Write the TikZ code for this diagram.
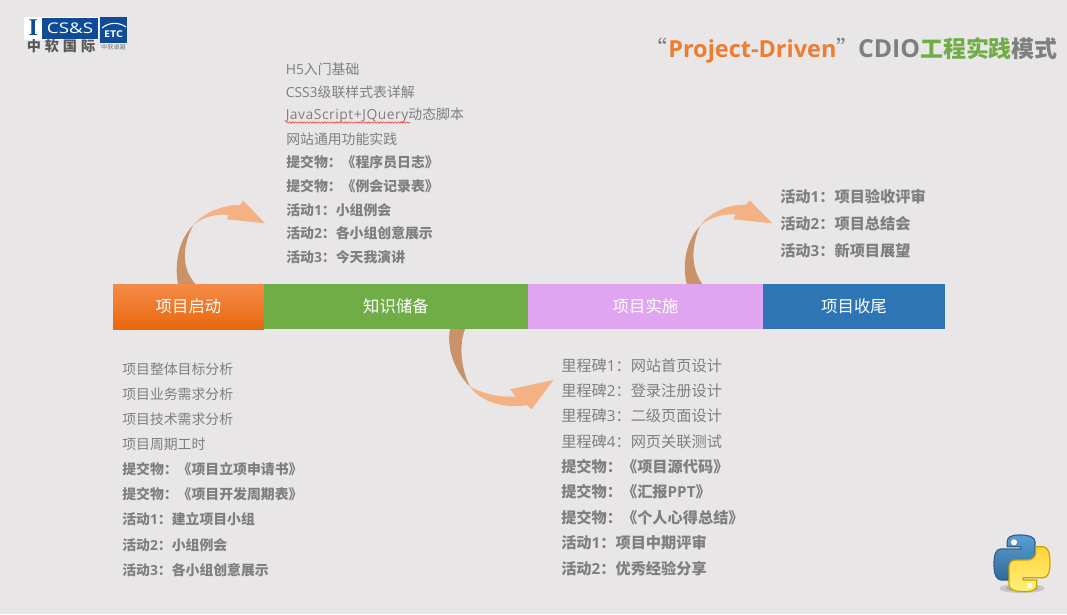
\documentclass[tikz,border=0pt]{standalone}
\usepackage{fontspec}
\setmainfont{Noto Sans CJK SC}
\newfontfamily\lat{Open Sans}
\newfontfamily\serifI{Liberation Serif}
\usetikzlibrary{decorations.pathmorphing}
\definecolor{bg}{HTML}{E8E6E7}
\definecolor{txt}{HTML}{7F7F7F}
\definecolor{arrL}{HTML}{F4B183}
\definecolor{arrD}{HTML}{C99268}
\definecolor{ttlO}{HTML}{ED7D31}
\definecolor{ttlG}{HTML}{70AD47}
\definecolor{logoB}{HTML}{0F4C97}
\definecolor{orT}{HTML}{F58B47}
\definecolor{orB}{HTML}{E8680F}
\definecolor{purp}{HTML}{E0A5F0}
\definecolor{blu}{HTML}{2E75B6}
\definecolor{pyBd}{HTML}{2F628E}
\definecolor{pyT}{HTML}{5A9FD4}
\definecolor{pyB}{HTML}{306998}
\definecolor{pyYd}{HTML}{C9A400}
\definecolor{pyYa}{HTML}{FFF07A}
\definecolor{pyYb}{HTML}{FFD43B}
\tikzset{
  item/.style={anchor=west,inner sep=0pt,text=txt,font=\fontsize{10.4pt}{12pt}\selectfont},
  bolditem/.style={item,font=\fontsize{10.4pt}{12pt}\selectfont\bfseries},
  bigitem/.style={item,font=\fontsize{11.4pt}{13pt}\selectfont},
  bigbold/.style={item,font=\fontsize{11.4pt}{13pt}\selectfont\bfseries},
  phase/.style={draw=none,inner sep=0pt,text=white,minimum height=33.75pt,font=\fontsize{12.3pt}{14pt}\selectfont},
  zoomA/.style={x=.25pt,y=-.25pt}
}
\newcommand{\ltn}[1]{{\lat #1}}
\begin{document}
\begin{tikzpicture}[x=.75pt,y=-.75pt]
\useasboundingbox (0,0) rectangle (1067,614);
\fill[bg] (0,0) rectangle (1067,614);
% arrows
\begin{scope}[shift={(150,190)},zoomA]
\fill[arrD] (84,282) .. controls (76,240) and (76,160) .. (130,105) .. controls (95,170) and (95,235) .. (136,282) -- cycle;
\fill[arrL] (130,105) .. controls (165,65) and (220,45) .. (270,45) -- (280,32) -- (345,100) -- (230,88) -- (236,75) .. controls (190,70) and (155,85) .. (130,105) -- cycle;
\end{scope}
\begin{scope}[shift={(430,310)},zoomA]
\fill[arrD] (60,57) .. controls (50,110) and (70,180) .. (120,230) .. controls (95,180) and (85,110) .. (105,57) -- cycle;
\fill[arrL] (120,230) .. controls (160,285) and (240,295) .. (290,285) -- (305,298) -- (370,210) -- (240,238) -- (258,260) .. controls (210,262) and (160,252) .. (120,230) -- cycle;
\end{scope}
\begin{scope}[shift={(670,190)},zoomA]
\fill[arrD] (50,282) .. controls (35,220) and (50,150) .. (90,108) .. controls (65,165) and (60,230) .. (97,282) -- cycle;
\fill[arrL] (90,108) .. controls (120,65) and (180,42) .. (225,45) -- (240,32) -- (307,100) -- (190,88) -- (197,73) .. controls (155,70) and (115,85) .. (90,108) -- cycle;
\end{scope}
% bars
\node[phase,minimum width=113.25pt,top color=orT,bottom color=orB] (p1) at (188.5,306.5) {项目启动};
\node[phase,minimum width=198pt,fill=ttlG] (p2) at (396,306.5) {知识储备};
\node[phase,minimum width=176.25pt,fill=purp] (p3) at (645.5,306.5) {项目实施};
\node[phase,minimum width=136.5pt,fill=blu] (p4) at (854,306.5) {项目收尾};
% list 1
\node[item] (a1) at (122,369) {项目整体目标分析};
\node[item] (a2) at (122,394) {项目业务需求分析};
\node[item] (a3) at (122,419) {项目技术需求分析};
\node[item] (a4) at (122,444) {项目周期工时};
\node[bolditem] (a5) at (122,469.5) {提交物：《项目立项申请书》};
\node[bolditem] (a6) at (122,494.5) {提交物：《项目开发周期表》};
\node[bolditem] (a7) at (122,519.5) {活动\ltn{1}：建立项目小组};
\node[bolditem] (a8) at (122,545) {活动\ltn{2}：小组例会};
\node[bolditem] (a9) at (122,570) {活动\ltn{3}：各小组创意展示};
% list 2
\node[item] (b1) at (285.5,69) {\ltn{H5}入门基础};
\node[item] (b2) at (285.5,92) {\ltn{CSS3}级联样式表详解};
\node[item] (b3) at (285.5,115) {{\lat\addfontfeature{LetterSpace=3.8}JavaScript+JQuery}动态脚本};
\node[item] (b4) at (286,139) {网站通用功能实践};
\node[bolditem] (b5) at (286,162.5) {提交物：《程序员日志》};
\node[bolditem] (b6) at (286,186.5) {提交物：《例会记录表》};
\node[bolditem] (b7) at (286,210) {活动\ltn{1}：小组例会};
\node[bolditem] (b8) at (286,233) {活动\ltn{2}：各小组创意展示};
\node[bolditem] (b9) at (286,257) {活动\ltn{3}：今天我演讲};
\draw[red!75!white,line width=.45pt,decorate,decoration={zigzag,amplitude=.55pt,segment length=2.2pt}] (286,122.5) -- (410,122.5);
% list 3
\node[bigitem] (c1) at (561,365.5) {里程碑\ltn{1}：网站首页设计};
\node[bigitem] (c2) at (561,390.5) {里程碑\ltn{2}：登录注册设计};
\node[bigitem] (c3) at (561,415.5) {里程碑\ltn{3}：二级页面设计};
\node[bigitem] (c4) at (561,441.5) {里程碑\ltn{4}：网页关联测试};
\node[bigbold] (c5) at (561,466.5) {提交物：《项目源代码》};
\node[bigbold] (c6) at (561,491.5) {提交物：《汇报\ltn{PPT}》};
\node[bigbold] (c7) at (561,517.5) {提交物：《个人心得总结》};
\node[bigbold] (c8) at (561,543) {活动\ltn{1}：项目中期评审};
\node[bigbold] (c9) at (561,568.5) {活动\ltn{2}：优秀经验分享};
% list 4
\node[bigbold] (d1) at (780,197) {活动\ltn{1}：项目验收评审};
\node[bigbold] (d2) at (780,223.5) {活动\ltn{2}：项目总结会};
\node[bigbold] (d3) at (780,250.5) {活动\ltn{3}：新项目展望};
% title
\node[anchor=east,inner sep=0pt,text=txt,font=\fontsize{17.2pt}{20pt}\selectfont\bfseries] (title) at (1058,50)
 {\textmd{“}\hspace{1pt}\textcolor{ttlO}{{\lat\fontsize{17.6pt}{20pt}\selectfont Project-Driven}}\textmd{”}\hspace{-1pt}{\lat\fontsize{18.6pt}{20pt}\selectfont CDIO}\textcolor{ttlG}{工程实践}模式};
% logo
\fill[logoB] (24,17) rectangle (98.5,39.5);
\draw[white,line width=.6pt] (24.5,17.5) rectangle (98,39);
\fill[white] (25,18) rectangle (41.5,38.5);
\node[inner sep=0pt,text=logoB,font=\serifI\fontsize{18pt}{18pt}\selectfont\bfseries] (li) at (33.3,28) {I};
\node[inner sep=0pt,text=white,xscale=1.28,font=\lat\fontsize{11pt}{12pt}\selectfont] (lc) at (70,28.5) {CS\&S};
\fill[logoB] (100,17) rectangle (127,43);
\draw[white,line width=.8pt] (102,28) .. controls (109,22) and (119,22) .. (126,27);
\node[inner sep=0pt,text=white,xscale=1.15,font=\lat\fontsize{7pt}{8pt}\selectfont\bfseries] (le) at (113.5,34) {ETC};
\node[inner sep=0pt,text=black!65,font=\fontsize{10.6pt}{13pt}\addfontfeature{LetterSpace=28}\selectfont\bfseries] (lz) at (61,46) {中软国际};
\node[inner sep=0pt,text=black!55,font=\fontsize{4.6pt}{5pt}\selectfont] (lt) at (113.5,47.5) {中软卓越};
% python logo
\begin{scope}[shift={(980,525)},zoomA]
\fill[black!45,opacity=.35] (126,190) ellipse (68 and 14);
\fill[black!45,opacity=.45] (126,190) ellipse (48 and 9);
\def\snake{(118,30) .. controls (90,30) and (82,38) .. (82,50) -- (82,65) -- (122,65) -- (122,72) -- (62,72) .. controls (48,72) and (42,88) .. (42,118) .. controls (42,150) and (50,165) .. (64,165) -- (85,165) -- (85,148) .. controls (85,134) and (96,125) .. (110,125) -- (146,125) .. controls (158,125) and (165,116) .. (165,105) -- (165,50) .. controls (165,38) and (150,30) .. (118,30) -- cycle}
\draw[draw=pyBd,line width=.9pt,top color=pyT,bottom color=pyB] \snake;
\begin{scope}[rotate around={180:(126,115)}]
\draw[draw=pyYd,line width=.9pt,top color=pyYb,bottom color=pyYa] \snake;
\end{scope}
\fill[white] (102,52) circle (9);
\fill[white] (150,182) circle (8);
\end{scope}
\end{tikzpicture}
\end{document}
